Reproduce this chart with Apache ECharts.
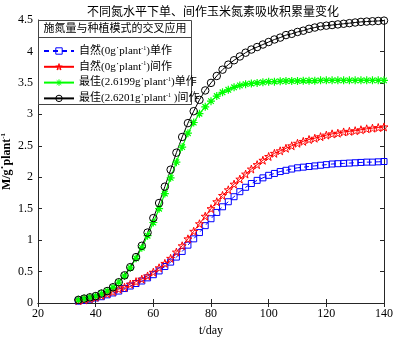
<!DOCTYPE html>
<html>
<head>
<meta charset="utf-8">
<script src="https://cdn.jsdelivr.net/npm/echarts@6/dist/echarts.min.js"></script>
<style>
  html, body { margin: 0; padding: 0; background: #fff; }
  #chart-container { width: 393px; height: 339px; }
</style>
</head>
<body>
<div id="chart-container"></div>
<script>
var days = [34, 36, 38, 40, 42, 44, 46, 48, 50, 52, 54, 56, 58, 60, 62, 64, 66, 68, 70, 72,
    74, 76, 78, 80, 82, 84, 86, 88, 90, 92, 94, 96, 98, 100, 102, 104, 106, 108, 110, 112,
    114, 116, 118, 120, 122, 124, 126, 128, 130, 132, 134, 136, 138, 140];

var natMono = [0.03, 0.04, 0.06, 0.08, 0.10, 0.13, 0.16, 0.19, 0.23, 0.27, 0.31, 0.35, 0.40, 0.45, 0.51, 0.58, 0.65, 0.73, 0.82, 0.92,
    1.02, 1.12, 1.23, 1.34, 1.44, 1.53, 1.61, 1.69, 1.77, 1.84, 1.90, 1.95, 1.99, 2.03, 2.06, 2.09, 2.11, 2.13, 2.15, 2.16,
    2.17, 2.18, 2.19, 2.20, 2.21, 2.215, 2.22, 2.225, 2.23, 2.235, 2.24, 2.24, 2.245, 2.25];

var natInter = [0.04, 0.05, 0.07, 0.09, 0.12, 0.15, 0.18, 0.22, 0.25, 0.30, 0.34, 0.38, 0.43, 0.49, 0.56, 0.63, 0.71, 0.81, 0.91, 1.02,
    1.14, 1.26, 1.38, 1.50, 1.61, 1.71, 1.80, 1.89, 1.97, 2.05, 2.13, 2.20, 2.27, 2.33, 2.38, 2.42, 2.46, 2.50, 2.54, 2.57,
    2.60, 2.62, 2.645, 2.67, 2.69, 2.70, 2.72, 2.73, 2.74, 2.755, 2.77, 2.78, 2.79, 2.80];

var bestMono = [0.05, 0.07, 0.09, 0.11, 0.15, 0.19, 0.25, 0.33, 0.43, 0.56, 0.71, 0.88, 1.07, 1.28, 1.50, 1.74, 1.99, 2.24, 2.48, 2.70,
    2.87, 3.01, 3.12, 3.21, 3.29, 3.35, 3.39, 3.43, 3.46, 3.48, 3.49, 3.50, 3.51, 3.52, 3.52, 3.525, 3.53, 3.53, 3.53, 3.535,
    3.535, 3.535, 3.54, 3.54, 3.54, 3.54, 3.54, 3.54, 3.54, 3.54, 3.54, 3.54, 3.54, 3.54];

var bestInter = [0.05, 0.07, 0.09, 0.11, 0.15, 0.19, 0.25, 0.33, 0.44, 0.57, 0.73, 0.91, 1.12, 1.35, 1.59, 1.85, 2.12, 2.39, 2.64, 2.86,
    3.05, 3.23, 3.38, 3.50, 3.61, 3.71, 3.79, 3.86, 3.92, 3.98, 4.03, 4.07, 4.11, 4.15, 4.19, 4.22, 4.26, 4.28, 4.31, 4.33,
    4.36, 4.38, 4.40, 4.41, 4.42, 4.43, 4.44, 4.45, 4.46, 4.47, 4.475, 4.48, 4.485, 4.49];

var seriesNames = [
    '自然(0g˙plant⁻¹)单作',
    '自然(0g˙plant⁻¹)间作',
    '最佳(2.6199g˙plant⁻¹)单作',
    '最佳(2.6201g˙plant⁻¹ )间作'
];
var seriesColors = ['#0000ff', '#ff0000', '#00ff00', '#000000'];

function pairs(vals) {
    return days.map(function (d, i) { return [d, vals[i]]; });
}

// split the "⁻¹" out so it can be drawn as a small raised token
function supText(s) {
    var parts = s.split('⁻¹');
    return '{a|' + parts[0] + '}{s|-1}{a|' + parts[1] + '}';
}

var star = 'path://M0,-1L0.2245,-0.309L0.951,-0.309L0.363,0.118L0.588,0.809L0,0.382L-0.588,0.809L-0.363,0.118L-0.951,-0.309L-0.2245,-0.309Z';
var asterisk = 'path://M0,-1L0,1M-1,0L1,0M-0.7,-0.7L0.7,0.7M-0.7,0.7L0.7,-0.7';

var serif = '"Liberation Serif", "Noto Sans CJK SC", serif';
var axisColor = '#262626';
var hollow = 'rgba(255,255,255,0)';

var dom = document.getElementById('chart-container');
var myChart = echarts.init(dom, null, { renderer: 'canvas' });

var option = {
    animation: false,
    title: {
        text: '不同氮水平下单、间作玉米氮素吸收积累量变化',
        left: 208, top: 2, textAlign: 'center',
        textStyle: { fontFamily: serif, fontSize: 12, fontWeight: 'normal', color: '#000' }
    },
    grid: { left: 38, right: 9, top: 20, bottom: 36, containLabel: false, outerBoundsMode: 'none' },
    xAxis: [{
        type: 'value', min: 20, max: 140, interval: 20,
        name: 't/day', nameLocation: 'middle', nameGap: 22,
        nameTextStyle: { fontFamily: serif, fontSize: 12, color: '#000' },
        axisLine: { lineStyle: { color: axisColor } },
        axisTick: { inside: true, length: 4, lineStyle: { color: axisColor } },
        axisLabel: { fontFamily: serif, fontSize: 12, color: '#000', margin: 5 },
        splitLine: { show: false }
    }, {
        type: 'value', min: 20, max: 140, interval: 20, position: 'top',
        axisLine: { show: true, lineStyle: { color: axisColor } },
        axisTick: { inside: true, length: 4, lineStyle: { color: axisColor } },
        axisLabel: { show: false }, splitLine: { show: false }
    }],
    yAxis: [{
        type: 'value', min: 0, max: 4.5, interval: 0.5,
        name: supText('M/g˙plant⁻¹'), nameLocation: 'middle', nameGap: 24, nameMoveOverlap: false,
        nameTextStyle: {
            color: '#000',
            rich: {
                a: { fontFamily: serif, fontSize: 12, fontWeight: 'bold', color: '#000', lineHeight: 14 },
                s: { fontFamily: serif, fontSize: 7, fontWeight: 'bold', color: '#000', lineHeight: 14, verticalAlign: 'top' }
            }
        },
        axisLine: { show: true, lineStyle: { color: axisColor } },
        axisTick: { inside: true, length: 4, lineStyle: { color: axisColor } },
        axisLabel: { fontFamily: serif, fontSize: 12, color: '#000', margin: 5 },
        splitLine: { show: false }
    }, {
        type: 'value', min: 0, max: 4.5, interval: 0.5, position: 'right',
        axisLine: { show: true, lineStyle: { color: axisColor } },
        axisTick: { inside: true, length: 4, lineStyle: { color: axisColor } },
        axisLabel: { show: false }, splitLine: { show: false }
    }],
    legend: {
        orient: 'vertical', left: 43, top: 45, padding: 0,
        itemWidth: 30, itemHeight: 8, itemGap: 4.3,
        data: seriesNames.map(function (n, i) {
            return { name: n, itemStyle: { color: hollow, borderColor: seriesColors[i], borderWidth: 1 } };
        }),
        formatter: supText,
        textStyle: {
            color: '#000',
            rich: {
                a: { fontFamily: serif, fontSize: 11, color: '#000', lineHeight: 12 },
                s: { fontFamily: serif, fontSize: 6, color: '#000', lineHeight: 12, verticalAlign: 'top' }
            }
        },
        z: 6
    },
    graphic: [{
        type: 'rect', z: 5,
        shape: { x: 38.5, y: 20.5, width: 153, height: 84 },
        style: { fill: '#fff', stroke: '#444', lineWidth: 1 }
    }, {
        type: 'line', z: 5,
        shape: { x1: 38.5, y1: 37.5, x2: 191.5, y2: 37.5 },
        style: { stroke: '#444', lineWidth: 1 }
    }, {
        type: 'text', z: 7, x: 115, y: 29,
        style: {
            text: '施氮量与种植模式的交叉应用', fill: '#000',
            font: '11px ' + serif, textAlign: 'center', textVerticalAlign: 'middle'
        }
    }],
    series: [{
        name: seriesNames[0], type: 'line', data: pairs(natMono),
        symbol: 'rect', symbolSize: 6,
        itemStyle: { color: hollow, borderColor: seriesColors[0], borderWidth: 1 },
        lineStyle: { color: seriesColors[0], width: 1, type: [5, 4] }
    }, {
        name: seriesNames[1], type: 'line', data: pairs(natInter),
        symbol: star, symbolSize: 8,
        itemStyle: { color: hollow, borderColor: seriesColors[1], borderWidth: 1 },
        lineStyle: { color: seriesColors[1], width: 1 }
    }, {
        name: seriesNames[2], type: 'line', data: pairs(bestMono),
        symbol: asterisk, symbolSize: 8,
        itemStyle: { color: hollow, borderColor: seriesColors[2], borderWidth: 1.2 },
        lineStyle: { color: seriesColors[2], width: 1.2 }
    }, {
        name: seriesNames[3], type: 'line', data: pairs(bestInter),
        symbol: 'circle', symbolSize: 7.5,
        itemStyle: { color: hollow, borderColor: seriesColors[3], borderWidth: 1 },
        lineStyle: { color: seriesColors[3], width: 1 }
    }]
};

myChart.setOption(option);
window.addEventListener('resize', myChart.resize);
</script>
</body>
</html>
